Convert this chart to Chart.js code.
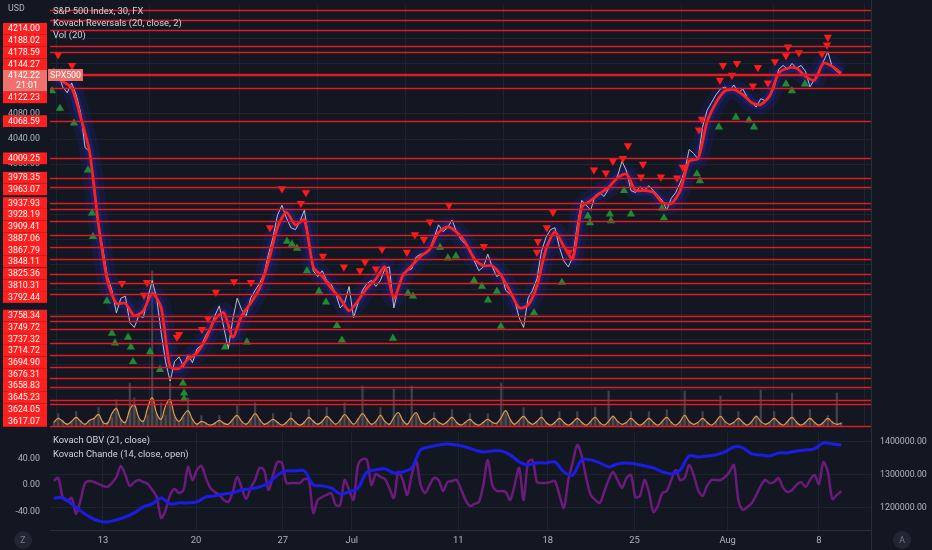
<!DOCTYPE html>
<html>
<head>
<meta charset="utf-8">
<script src="https://cdn.jsdelivr.net/npm/chart.js@4.4.1/dist/chart.umd.min.js"></script>
<style>
  html, body { margin: 0; padding: 0; background: #131722; }
  #wrap { position: relative; width: 932px; height: 550px; overflow: hidden; }
  #main { position: absolute; left: 0; top: 0; }
  #sub { position: absolute; left: 0; top: 432px; }
</style>
</head>
<body>
<div id="wrap">
  <canvas id="main" width="932" height="432"></canvas>
  <canvas id="sub" width="932" height="118"></canvas>
</div>
<script>
// ---- time axis (trading days, 0 = Jun 13) ----
const startDay = -2.75;
const stepFine = 0.25;
const stepCoarse = 0.5;
const tickDays = [0, 5.2, 10.05, 13.9, 19.85, 24.85, 29.7, 34.9, 40];
const tickLabels = ["13", "20", "27", "Jul", "11", "18", "25", "Aug", "8"];

// ---- price (30m closes, sampled) ----
const closes = [
  4152.8, 4145.0, 4123.2, 4113.8, 4129.4, 4110.7, 4082.6, 4026.4, 4020.2, 3965.6,
  3903.2, 3864.2, 3820.5, 3798.7, 3762.8, 3786.2, 3789.3, 3747.2, 3739.4, 3758.1,
  3755.0, 3786.2, 3814.3, 3786.2, 3731.6, 3684.8, 3653.6, 3684.8, 3692.6, 3677.0,
  3695.7, 3683.2, 3705.1, 3711.3, 3726.9, 3739.4, 3758.1, 3773.7, 3739.4, 3705.1,
  3751.9, 3786.2, 3767.5, 3758.1, 3786.2, 3798.7, 3809.6, 3825.2, 3856.4, 3882.9,
  3918.8, 3934.4, 3914.1, 3898.5, 3895.4, 3907.9, 3926.6, 3879.8, 3829.9, 3820.5,
  3829.9, 3814.3, 3808.0, 3794.0, 3770.6, 3778.4, 3804.9, 3755.0, 3778.4, 3798.7,
  3809.6, 3814.3, 3804.9, 3814.3, 3833.0, 3836.1, 3770.6, 3801.8, 3825.2, 3829.9,
  3833.0, 3851.7, 3856.4, 3856.4, 3864.2, 3882.9, 3903.2, 3892.3, 3898.5, 3911.0,
  3892.3, 3879.8, 3872.0, 3861.1, 3845.5, 3829.9, 3836.1, 3856.4, 3836.1, 3820.5,
  3825.2, 3798.7, 3792.4, 3783.1, 3755.0, 3739.4, 3786.2, 3798.7, 3817.4, 3861.1,
  3882.9, 3895.4, 3898.5, 3867.3, 3845.5, 3836.1, 3851.7, 3903.2, 3942.2, 3934.4,
  3926.6, 3950.0, 3954.7, 3948.4, 3960.9, 3970.3, 3981.2, 4004.6, 3989.0, 3957.8,
  3954.7, 3964.0, 3957.8, 3965.6, 3957.8, 3950.0, 3942.2, 3926.6, 3945.3, 3954.7,
  3970.3, 3989.0, 4023.3, 4017.1, 4007.7, 4059.2, 4085.7, 4098.2, 4110.7, 4120.0,
  4123.2, 4116.9, 4126.3, 4113.8, 4120.0, 4106.0, 4098.2, 4091.0, 4104.4, 4101.3,
  4107.6, 4121.6, 4151.2, 4157.5, 4151.2, 4160.6, 4152.8, 4157.5, 4148.1, 4123.2,
  4135.6, 4148.1, 4163.7, 4179.3, 4154.4, 4148.1, 4142.22
];

// Kovach Reversals moving line (every 0.5 day)
const reversalLine = [
  4145, 4132, 4122, 4075, 4020, 3903, 3814, 3778, 3778, 3758,
  3766, 3794, 3771, 3677, 3674, 3689, 3699, 3721, 3752, 3763,
  3724, 3758, 3778, 3802, 3845, 3899, 3923, 3903, 3911, 3836,
  3821, 3802, 3786, 3766, 3782, 3802, 3817, 3836, 3786, 3822,
  3838, 3853, 3864, 3891, 3900, 3892, 3875, 3849, 3838, 3838,
  3822, 3797, 3771, 3775, 3806, 3864, 3892, 3869, 3849, 3931,
  3942, 3953, 3963, 3978, 3984, 3958, 3958, 3955, 3939, 3937,
  3958, 4005, 4009, 4067, 4098, 4117, 4119, 4111, 4098, 4095,
  4109, 4145, 4153, 4153, 4140, 4134, 4161, 4156, 4145
];

// reversal markers
const sellDays = [-2.51, -1.73, 1.06, 2.46, 2.29, 4.13, 4.25, 5.53, 5.87, 6.31, 7.32, 8.27, 9.33, 10.0, 11.34,
  11.06, 12.29, 13.46, 14.36, 14.64, 15.25, 15.59, 16.98, 17.43, 17.93, 18.27, 19.33, 21.28, 24.3, 24.25,
  24.8, 25.14, 26.03, 27.43, 28.1, 28.49, 29.05, 29.33, 30.06, 30.17, 31.17, 32.07, 32.4, 33.3, 33.46,
  34.47, 34.64, 35.14, 35.42, 36.31, 36.59, 37.15, 37.54, 38.16, 38.27, 38.88, 40.17, 40.45, 40.5];
const sellPrices = [4174.6, 4157.5, 3809.6, 3811.2, 3790.9, 3723.8, 3728.5, 3736.3, 3753.4, 3795.6, 3812.7, 3811.2, 3898.5, 3960.9, 3954.7,
  3937.5, 3853.3, 3836.1, 3829.9, 3843.9, 3833.0, 3864.2, 3859.5, 3887.6, 3879.8, 3907.9, 3934.4, 3868.9, 3876.7, 3859.5,
  3898.5, 3923.5, 3859.5, 3990.6, 3985.9, 4004.6, 4009.3, 4029.6, 3979.6, 3999.9, 3979.6, 3978.1, 3995.2, 4054.5, 4071.7,
  4134.1, 4157.5, 4141.9, 4160.6, 4124.7, 4154.4, 4129.4, 4163.7, 4173.1, 4187.1, 4177.8, 4176.2, 4190.2, 4202.7];
const buyDays = [-2.85, -2.4, -1.62, -0.84, -0.61, -0.56, 0.22, 0.5, 0.67, 1.4, 1.56, 1.68, 2.63, 3.18, 4.47,
  4.53, 4.53, 6.82, 8.04, 10.28, 10.56, 10.84, 11.4, 12.07, 12.46, 13.07, 13.35, 16.2, 17.04, 17.32,
  18.83, 19.27, 19.72, 20.73, 21.17, 21.51, 22.01, 22.23, 24.08, 25.64, 27.09, 27.21, 28.32, 28.38, 29.11,
  29.5, 31.23, 31.34, 33.18, 33.35, 34.41, 35.36, 36.09, 36.37, 38.16, 38.49, 39.22];
const buyPrices = [4116.9, 4088.8, 4065.4, 3990.6, 3921.9, 3884.5, 3781.5, 3730.0, 3714.4, 3723.8, 3708.2, 3684.8, 3700.4, 3672.3, 3650.5,
  3634.9, 3625.5, 3708.2, 3716.0, 3876.7, 3872.0, 3865.8, 3829.9, 3797.1, 3779.9, 3742.5, 3719.1, 3722.2, 3794.0, 3789.3,
  3867.3, 3850.2, 3853.3, 3814.3, 3804.9, 3783.1, 3797.1, 3741.0, 3762.8, 3811.2, 3917.2, 3906.3, 3920.4, 3909.4, 3957.8,
  3920.4, 3929.7, 3914.1, 3984.3, 3973.4, 4059.2, 4074.8, 4070.1, 4059.2, 4127.8, 4116.9, 4127.8];

// horizontal levels
const levelPrices = [4214.00, 4188.02, 4178.59, 4144.27, 4122.23, 4068.59, 4009.25, 3978.35, 3963.07,
  3937.93, 3928.19, 3909.41, 3887.06, 3867.79, 3848.11, 3825.36, 3810.31, 3792.44, 3758.34, 3749.72,
  3737.32, 3714.72, 3694.90, 3676.31, 3658.83, 3645.23, 3624.05, 3617.07];
const offscreenLevels = [4245.3, 4229.2, 3583.0];
const lastPrice = 4142.22;
const countdown = "21:01";

// ---- volume ----
const volume = [
  5, 14, 7, 4, 5, 16, 7, 4, 6, 9, 20, 6, 5, 10, 28, 8, 6, 45, 30, 9,
  7, 12, 160, 14, 25, 12, 45, 10, 6, 10, 30, 8, 4, 12, 5, 3, 5, 12, 5, 3,
  8, 22, 6, 4, 9, 25, 8, 4, 5, 14, 5, 3, 5, 15, 6, 3, 6, 18, 7, 4,
  7, 20, 7, 4, 8, 25, 8, 4, 9, 42, 9, 4, 6, 20, 6, 4, 39, 12, 7, 4,
  42, 14, 6, 4, 6, 15, 5, 3, 6, 18, 5, 3, 5, 14, 5, 3, 5, 14, 5, 4,
  45, 14, 7, 4, 7, 20, 6, 3, 6, 18, 5, 3, 5, 16, 5, 3, 5, 16, 5, 3,
  6, 20, 5, 3, 37, 12, 6, 3, 5, 16, 5, 3, 5, 16, 5, 3, 6, 18, 5, 3,
  6, 37, 6, 3, 5, 16, 5, 3, 6, 32, 6, 3, 5, 16, 5, 3, 6, 12, 38, 4,
  5, 16, 5, 3, 6, 35, 6, 3, 5, 18, 5, 3, 5, 12, 6, 35, 5
];
const volumeMA = [
  5, 9, 6, 3, 6, 10, 6, 3, 7, 9, 13, 5, 4, 14, 19, 8, 5, 18, 23, 10,
  6, 20, 30, 14, 8, 22, 28, 12, 6, 12, 17, 8, 3, 6, 4, 2, 4, 7, 4, 3,
  8, 12, 6, 3, 8, 14, 8, 3, 5, 8, 5, 2, 5, 9, 5, 2, 5, 10, 6, 3,
  6, 11, 7, 3, 7, 13, 8, 3, 8, 14, 8, 3, 6, 12, 6, 3, 10, 15, 7, 3,
  10, 15, 6, 3, 6, 9, 5, 3, 6, 10, 5, 2, 5, 8, 4, 2, 5, 8, 5, 4,
  10, 17, 8, 3, 7, 11, 6, 3, 6, 10, 5, 2, 5, 9, 5, 2, 5, 9, 5, 2,
  6, 10, 5, 2, 6, 11, 6, 3, 5, 9, 5, 2, 5, 9, 5, 2, 6, 10, 5, 2,
  6, 12, 6, 3, 5, 9, 5, 2, 6, 11, 6, 3, 5, 9, 5, 2, 6, 11, 6, 3,
  5, 9, 5, 2, 6, 10, 5, 2, 5, 9, 5, 2, 5, 9, 5, 3, 4
];

// ---- lower pane ----
const obv = [
  1230300, 1230300, 1212100, 1190900, 1172700, 1160600, 1157600, 1163600, 1172700, 1184900,
  1203000, 1212100, 1230300, 1212100, 1215200, 1215200, 1218200, 1233400, 1236400, 1242400,
  1245500, 1254600, 1257600, 1263700, 1275800, 1300000, 1312100, 1312100, 1312100, 1269700,
  1266700, 1260600, 1242400, 1248500, 1260600, 1309100, 1315200, 1318200, 1306100, 1309100,
  1321200, 1375800, 1384800, 1390900, 1393900, 1390900, 1384800, 1375800, 1369700, 1372700,
  1372700, 1360600, 1339400, 1330300, 1336400, 1336400, 1339400, 1309100, 1300000, 1345500,
  1345500, 1336400, 1324200, 1333300, 1336400, 1333300, 1327300, 1321200, 1309100, 1303000,
  1315200, 1357600, 1354500, 1357600, 1360600, 1369700, 1384800, 1381800, 1363600, 1360600,
  1357600, 1366700, 1366700, 1372700, 1375800, 1378800, 1397000, 1393900, 1390900
];
const chande = [
  6.0, 10.6, -18.1, -24.1, -19.6, -43.8, -22.6, 3.0, 6.0, 4.5,
  1.5, -1.5, -3.0, 3.0, 12.1, 28.7, 15.1, -1.5, 4.5, 7.5,
  4.5, 1.5, -7.5, -18.1, -49.8, -37.7, -15.1, -6.0, -12.1, -7.5,
  27.2, 7.5, 22.6, 28.7, 10.6, -4.5, -10.6, -15.1, -22.6, -25.7,
  -10.6, 12.1, -4.5, -21.1, -4.5, 7.5, 25.7, 22.6, -7.5, 15.1,
  34.7, 33.2, 3.0, 3.0, 3.0, 3.0, 9.1, 7.5, -42.3, -22.6,
  -18.1, -15.1, -12.1, -30.2, -30.2, 7.5, -7.5, -22.6, 30.2, 39.2,
  37.7, 0, 16.6, 12.1, 9.1, -4.5, -19.6, 19.6, 7.5, -15.1,
  15.1, 36.2, 0, -12.1, 0, 10.6, 7.5, -9.1, 4.5, 6.0,
  7.5, -6.0, -22.6, -31.7, -28.7, -25.7, 0, 37.7, 0, -9.1,
  -9.1, -10.6, -22.6, 0, 25.7, -22.6, 34.7, 37.7, 4.5, 3.0,
  3.0, 4.5, 6.0, -15.1, -34.7, 7.5, 34.7, 60.4, 43.8, 10.6,
  -15.1, -22.6, -27.2, -10.6, 7.5, 19.6, 7.5, -4.5, 10.6, 15.1,
  -18.1, -16.6, 7.5, -10.6, -40.7, -31.7, -12.1, -9.1, 7.5, 22.6,
  7.5, 10.6, 30.2, 15.1, -7.5, -16.6, -1.5, 7.5, 7.5, 7.5,
  12.1, 19.6, 30.2, -22.6, -37.7, -33.2, -27.2, -15.1, -1.5, 7.5,
  3.0, 4.5, 10.6, -4.5, -10.6, -7.5, 0, 4.5, -3.0, 7.5,
  15.1, 1.5, 34.7, 19.6, -21.1, -15.1, -9.1
];
const chandeTicks = [-40, 0, 40];
const obvTicks = [1200000, 1300000, 1400000];

// ---------------------------------------------------------------
const FONT = "Roboto, 'Noto Sans', sans-serif";
const TEXT = "#d1d4dc";
const AXIS_TEXT = "#b2b5be";
const GRID = "rgba(42,46,57,0.55)";
const X_MIN = -2.96, X_MAX = 42.91;
const AXIS_FONT = "8.8px " + FONT;
const LEGEND_FONT = "9.4px " + FONT;

const series = (arr, step) => arr.map((v, i) => ({ x: startDay + i * step, y: v }));
const pairs = (xs, ys) => xs.map((x, i) => ({ x, y: ys[i] }));

Chart.defaults.font.family = FONT;
Chart.defaults.color = AXIS_TEXT;

// axis labels drawn by hand so the layout keeps the full pane height
function drawAxisLabels(ctx, scale, x, align, fmt, skip) {
  ctx.save();
  ctx.font = AXIS_FONT;
  ctx.fillStyle = AXIS_TEXT;
  ctx.textAlign = align;
  ctx.textBaseline = "middle";
  scale.ticks.forEach(t => {
    if (skip && skip(t.value)) return;
    ctx.fillText(fmt(t.value), x, scale.getPixelForValue(t.value));
  });
  ctx.restore();
}

function gutterLine(chart) {
  const { ctx, chartArea: a } = chart;
  ctx.save();
  ctx.strokeStyle = "#2a2e39";
  ctx.lineWidth = 1;
  ctx.beginPath();
  ctx.moveTo(a.right + 0.5, 0);
  ctx.lineTo(a.right + 0.5, chart.height);
  ctx.stroke();
  ctx.restore();
}

// main pane extras: level lines, price labels, legend
const mainOverlay = {
  id: "mainOverlay",
  afterDatasetsDraw(chart) {
    const { ctx, chartArea: a } = chart;
    const y = chart.scales.y;
    ctx.save();
    ctx.strokeStyle = "#e01b22";
    ctx.lineWidth = 1.3;
    [...levelPrices, ...offscreenLevels, lastPrice].forEach(p => {
      const py = Math.round(y.getPixelForValue(p)) + 0.5;
      ctx.beginPath();
      ctx.moveTo(a.left, py);
      ctx.lineTo(a.right, py);
      ctx.stroke();
    });
    ctx.restore();
  },
  afterDraw(chart) {
    const { ctx, chartArea: a } = chart;
    const y = chart.scales.y;
    gutterLine(chart);
    drawAxisLabels(ctx, y, 40, "right", v => v.toFixed(2), v => v > 4230);

    ctx.save();
    // stacked price labels on the left scale
    const h = 11.7;
    const cur = y.getPixelForValue(lastPrice);
    const curTop = cur - 5, curBot = cur + 16.5;
    const items = levelPrices.map(p => ({ p, c: y.getPixelForValue(p) }));
    let limit = curTop;
    items.filter(o => o.p > lastPrice).sort((m, n) => n.c - m.c).forEach(o => {
      if (o.c + h / 2 > limit) o.c = limit - h / 2;
      limit = o.c - h / 2;
    });
    limit = curBot;
    items.filter(o => o.p < lastPrice).sort((m, n) => m.c - n.c).forEach(o => {
      if (o.c - h / 2 < limit) o.c = limit + h / 2;
      limit = o.c + h / 2;
    });

    ctx.font = AXIS_FONT;
    ctx.textAlign = "center";
    ctx.textBaseline = "middle";
    items.forEach(o => {
      ctx.fillStyle = "#ff1f1f";
      ctx.fillRect(3, o.c - h / 2, 44, h);
      ctx.fillStyle = "#ffffff";
      ctx.fillText(o.p.toFixed(2), 24, o.c + 0.5);
    });
    ctx.fillStyle = "#f0706c";
    ctx.fillRect(3, curTop, 44, curBot - curTop);
    ctx.fillStyle = "#ffffff";
    ctx.fillText(lastPrice.toFixed(2), 24, cur + 0.5);
    ctx.fillText(countdown, 27, cur + 11);

    // symbol tag at the price line
    ctx.fillStyle = "#f0706c";
    ctx.fillRect(a.left - 2, cur - 6, 35, 12);
    ctx.fillStyle = "#ffffff";
    ctx.font = AXIS_FONT;
    ctx.fillText("SPX500", a.left + 15.5, cur + 0.5);

    // currency + legend
    ctx.textAlign = "left";
    ctx.fillStyle = AXIS_TEXT;
    ctx.fillText("USD", 8, 9);
    ctx.font = LEGEND_FONT;
    ctx.fillStyle = TEXT;
    ["S&P 500 Index, 30, FX", "Kovach Reversals (20, close, 2)", "Vol (20)"].forEach((t, i) => {
      ctx.fillText(t, 53, 12 + i * 11.6);
    });
    ctx.restore();
  }
};

new Chart(document.getElementById("main"), {
  type: "line",
  data: {
    datasets: [
      { label: "sell", data: pairs(sellDays, sellPrices), showLine: false, pointStyle: "triangle",
        rotation: 180, pointRadius: 4.8, pointBackgroundColor: "#ff1a1a", pointBorderWidth: 0, yAxisID: "y", order: 0 },
      { label: "buy", data: pairs(buyDays, buyPrices), showLine: false, pointStyle: "triangle",
        pointRadius: 4.8, pointBackgroundColor: "#1f8a34", pointBorderWidth: 0, yAxisID: "y", order: 1 },
      { label: "reversal", data: series(reversalLine, stepCoarse), borderColor: "#ff2020", borderWidth: 2.8,
        tension: 0.25, pointRadius: 0, yAxisID: "y", order: 2 },
      { label: "price", data: series(closes, stepFine), borderColor: "rgba(214,219,226,0.85)", borderWidth: 1,
        pointRadius: 0, yAxisID: "y", order: 3 },
      { label: "glow", data: series(reversalLine, stepCoarse), borderColor: "rgba(36,48,200,0.28)", borderWidth: 9,
        tension: 0.25, pointRadius: 0, yAxisID: "y", order: 4 },
      { label: "glow2", data: series(reversalLine, stepCoarse), borderColor: "rgba(26,34,140,0.25)", borderWidth: 20,
        tension: 0.25, pointRadius: 0, yAxisID: "y", order: 5 },
      { label: "volMA", data: series(volumeMA, stepFine), borderColor: "#e89a4e", borderWidth: 1.2,
        backgroundColor: "rgba(110,96,90,0.3)", fill: "origin", tension: 0.4, pointRadius: 0, yAxisID: "vol", order: 6 },
      { type: "bar", label: "vol", data: series(volume, stepFine), backgroundColor: "rgba(120,123,134,0.45)",
        barThickness: 1.5, yAxisID: "vol", order: 7 }
    ]
  },
  options: {
    responsive: false,
    animation: false,
    events: [],
    layout: { padding: 0 },
    plugins: { legend: { display: false }, tooltip: { enabled: false } },
    scales: {
      x: {
        type: "linear", min: X_MIN, max: X_MAX, offset: false,
        afterBuildTicks: s => { s.ticks = tickDays.map(v => ({ value: v })); },
        afterFit: s => { s.height = 0; },
        ticks: { display: false },
        grid: { color: GRID, drawTicks: false },
        border: { display: false }
      },
      y: {
        position: "left", min: 3580.3, max: 4254.2,
        afterBuildTicks: s => { s.ticks = s.ticks.filter(t => Math.abs(t.value % 40) < 0.01); },
        afterFit: s => { s.width = 50; },
        ticks: { display: false, stepSize: 40 },
        grid: { color: GRID, drawTicks: false },
        border: { display: false }
      },
      vol: { display: false, min: 0, max: 432 },
      side: {
        position: "right", min: 0, max: 1,
        afterFit: s => { s.width = 61; },
        ticks: { display: false },
        grid: { display: false, drawTicks: false },
        border: { display: false }
      }
    }
  },
  plugins: [mainOverlay]
});

// lower pane extras
const subOverlay = {
  id: "subOverlay",
  afterDraw(chart) {
    const { ctx, chartArea: a } = chart;
    gutterLine(chart);
    drawAxisLabels(ctx, chart.scales.cmo, 40, "right", v => v.toFixed(2));
    drawAxisLabels(ctx, chart.scales.obv, a.right + 9, "left", v => v.toFixed(2));

    ctx.save();
    ctx.font = LEGEND_FONT;
    ctx.textBaseline = "middle";
    ctx.textAlign = "left";
    ctx.fillStyle = TEXT;
    ctx.fillText("Kovach OBV (21, close)", 53, 9);
    ctx.fillText("Kovach Chande (14, close, open)", 53, 23);

    ctx.font = AXIS_FONT;
    [[23, "Z"], [902, "A"]].forEach(([cx, t]) => {
      ctx.fillStyle = "#222632";
      ctx.beginPath();
      ctx.arc(cx, a.bottom + 10, 9, 0, Math.PI * 2);
      ctx.fill();
      ctx.fillStyle = "#787b86";
      ctx.textAlign = "center";
      ctx.fillText(t, cx, a.bottom + 10.5);
    });
    ctx.restore();
  }
};

new Chart(document.getElementById("sub"), {
  type: "line",
  data: {
    datasets: [
      { label: "OBV", data: series(obv, stepCoarse), borderColor: "#1c1ce8", borderWidth: 3,
        tension: 0.3, pointRadius: 0, yAxisID: "obv", order: 0 },
      { label: "Chande", data: series(chande, stepFine), borderColor: "#6d1a7d", borderWidth: 2.5,
        tension: 0.3, pointRadius: 0, yAxisID: "cmo", order: 1 }
    ]
  },
  options: {
    responsive: false,
    animation: false,
    events: [],
    layout: { padding: 0 },
    plugins: { legend: { display: false }, tooltip: { enabled: false } },
    scales: {
      x: {
        type: "linear", min: X_MIN, max: X_MAX, offset: false,
        afterBuildTicks: s => { s.ticks = tickDays.map(v => ({ value: v })); },
        afterFit: s => { s.height = 20; },
        ticks: { padding: 5, color: AXIS_TEXT, font: { size: 9.4 }, maxRotation: 0, autoSkip: false,
          callback: (v, i) => tickLabels[i] },
        grid: { color: GRID, drawTicks: false },
        border: { display: true, color: "#2a2e39" }
      },
      cmo: {
        position: "left", min: -68, max: 80,
        afterBuildTicks: s => { s.ticks = chandeTicks.map(v => ({ value: v })); },
        afterFit: s => { s.width = 50; },
        ticks: { display: false },
        grid: { display: false, drawTicks: false },
        border: { display: false }
      },
      obv: {
        position: "right", min: 1133000, max: 1430000,
        afterBuildTicks: s => { s.ticks = obvTicks.map(v => ({ value: v })); },
        afterFit: s => { s.width = 61; },
        ticks: { display: false },
        grid: { color: GRID, drawTicks: false },
        border: { display: false }
      }
    }
  },
  plugins: [subOverlay]
});
</script>
</body>
</html>
